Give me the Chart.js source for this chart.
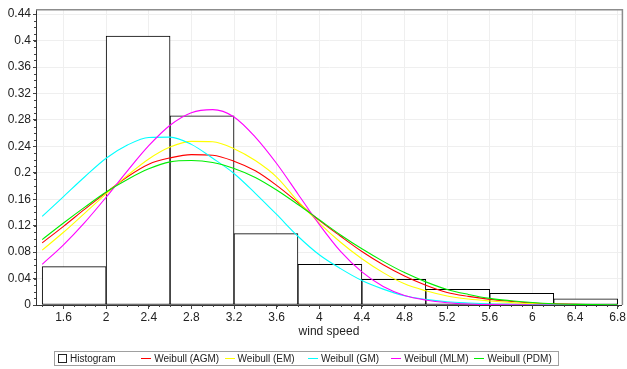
<!DOCTYPE html>
<html>
<head>
<meta charset="utf-8">
<script src="https://cdn.jsdelivr.net/npm/chart.js@4"></script>
<style>
    body { margin: 0; background: #fff; }
    #wrap { position: relative; width: 627px; height: 369px; }
    #legend {
        position: absolute;
        left: 54px;
        top: 351px;
        width: 505px;
        height: 15px;
        border: 1px solid #a0a0a0;
        font: 10px "Liberation Sans", Arial, sans-serif;
        color: #222;
        display: flex;
        align-items: center;
        padding-left: 3px;
        box-sizing: border-box;
    }
    .item { width: 83.3px; display: flex; align-items: center; white-space: nowrap; }
    .box { width: 9px; height: 9px; border: 1px solid #222; margin-right: 3px; box-sizing: border-box; }
    .line { width: 10px; height: 1.5px; margin-right: 3px; }
</style>
</head>
<body>
<div id="wrap">
    <canvas id="chart" width="627" height="369"></canvas>
    <div id="legend"></div>
</div>
<script>
// histogram (bin edges + heights)
const binEdges = [1.4, 2.0, 2.6, 3.2, 3.8, 4.4, 5.0, 5.6, 6.2, 6.8];
const binHeights = [0.058, 0.407, 0.286, 0.108, 0.0615, 0.039, 0.0237, 0.0176, 0.0095];

// fitted curves, read at these wind speeds
const windSpeed = [1.4, 1.6, 1.8, 2.0, 2.2, 2.4, 2.6, 2.8, 3.0, 3.2, 3.4, 3.6, 3.8, 4.0,
    4.2, 4.4, 4.6, 4.8, 5.0, 5.2, 5.4, 5.6, 5.8, 6.0, 6.2, 6.4, 6.6, 6.8];
const weibullAGM = [0.094, 0.119, 0.145, 0.170, 0.194, 0.213, 0.2225, 0.2275, 0.2265, 0.2175, 0.203, 0.181, 0.155, 0.128,
    0.104, 0.081, 0.061, 0.044, 0.030, 0.019, 0.013, 0.0085, 0.0055, 0.003, 0.0017, 0.0009, 0.0004, 0.0002];
const weibullEM = [0.083, 0.110, 0.139, 0.168, 0.196, 0.221, 0.239, 0.2475, 0.247, 0.2365, 0.2185, 0.1935, 0.157, 0.124,
    0.095, 0.070, 0.049, 0.032, 0.0215, 0.0136, 0.009, 0.006, 0.0037, 0.002, 0.001, 0.0005, 0.0002, 0.0001];
const weibullGM = [0.134, 0.164, 0.194, 0.222, 0.242, 0.2535, 0.254, 0.243, 0.222, 0.199, 0.169, 0.137, 0.104, 0.076,
    0.055, 0.037, 0.024, 0.014, 0.0085, 0.005, 0.003, 0.0015, 0.0008, 0.0004, 0.0002, 0.0001, 0, 0];
const weibullMLM = [0.0615, 0.091, 0.125, 0.163, 0.203, 0.241, 0.272, 0.291, 0.2955, 0.2845, 0.254, 0.214, 0.168, 0.122,
    0.081, 0.050, 0.028, 0.0145, 0.0075, 0.0035, 0.0015, 0.0006, 0.0002, 0.0001, 0, 0, 0, 0];
const weibullPDM = [0.099, 0.124, 0.148, 0.171, 0.190, 0.206, 0.2165, 0.2185, 0.2155, 0.2065, 0.193, 0.174, 0.152, 0.129,
    0.106, 0.085, 0.066, 0.049, 0.035, 0.0235, 0.016, 0.010, 0.0065, 0.0038, 0.002, 0.001, 0.0005, 0.0002];

const xTicks = [1.6, 2, 2.4, 2.8, 3.2, 3.6, 4, 4.4, 4.8, 5.2, 5.6, 6, 6.4, 6.8];
const yTicks = [0, 0.04, 0.08, 0.12, 0.16, 0.2, 0.24, 0.28, 0.32, 0.36, 0.4, 0.44];

const seriesNames = ['Weibull (AGM)', 'Weibull (EM)', 'Weibull (GM)', 'Weibull (MLM)', 'Weibull (PDM)'];
const seriesValues = [weibullAGM, weibullEM, weibullGM, weibullMLM, weibullPDM];
const seriesColors = ['#ff0000', '#ffff00', '#00ffff', '#ff00ff', '#00ee00'];

const font = { family: '"Liberation Sans", Arial, sans-serif', size: 12 };

const histogram = {
    type: 'bar',
    label: 'Histogram',
    data: binHeights.map((h, i) => ({ x: (binEdges[i] + binEdges[i + 1]) / 2, y: h })),
    backgroundColor: '#fff',
    borderColor: '#000',
    borderWidth: 1,
    borderSkipped: false,
    barThickness: 'flex',
    barPercentage: 1,
    categoryPercentage: 1,
    order: 10
};

// later series drawn on top
const curves = seriesNames.map((name, k) => ({
    type: 'line',
    label: name,
    data: windSpeed.map((x, i) => ({ x: x, y: seriesValues[k][i] })),
    borderColor: seriesColors[k],
    borderWidth: 1.1,
    pointRadius: 0,
    fill: false,
    cubicInterpolationMode: 'monotone',
    order: seriesNames.length - k
}));

// minor tick marks + frame round the plot area
const axisExtras = {
    id: 'axisExtras',
    afterDraw(chart) {
        const { ctx, chartArea: a, scales: { x, y } } = chart;
        ctx.save();
        ctx.strokeStyle = '#8c8c8c';
        ctx.lineWidth = 1.5;
        ctx.beginPath();
        ctx.moveTo(a.left, a.top + 0.5);
        ctx.lineTo(a.right + 0.5, a.top + 0.5);
        ctx.lineTo(a.right + 0.5, a.bottom);
        ctx.stroke();

        ctx.strokeStyle = '#444';
        ctx.lineWidth = 1;
        ctx.beginPath();
        for (let v = 14; v <= 68; v++) {
            const px = Math.round(x.getPixelForValue(v / 10)) + 0.5;
            ctx.moveTo(px, a.bottom);
            ctx.lineTo(px, a.bottom + 2);
        }
        for (let v = 0; v <= 44; v++) {
            const py = Math.round(y.getPixelForValue(v / 100)) + 0.5;
            ctx.moveTo(a.left - 2, py);
            ctx.lineTo(a.left, py);
        }
        ctx.stroke();
        ctx.restore();
    }
};

new Chart(document.getElementById('chart'), {
    type: 'bar',
    data: { datasets: [histogram, ...curves] },
    options: {
        responsive: false,
        animation: false,
        layout: { autoPadding: false, padding: { top: 8, right: 2, left: 0, bottom: 0 } },
        plugins: { legend: { display: false }, tooltip: { enabled: false } },
        scales: {
            x: {
                type: 'linear',
                min: 1.342,
                max: 6.84,
                offset: false,
                afterFit: (scale) => { scale.height = 64; },
                afterBuildTicks: (scale) => { scale.ticks = xTicks.map(v => ({ value: v })); },
                grid: { offset: false, color: '#efefef', tickColor: '#444', tickLength: 4 },
                border: { color: '#333', width: 1 },
                ticks: { font: font, color: '#222', padding: 1, maxRotation: 0, autoSkip: false,
                    callback: (v) => String(v) },
                title: { display: true, text: 'wind speed', font: font, color: '#222',
                    padding: { top: 0, bottom: 30 } }
            },
            y: {
                min: 0,
                max: 0.4475,
                afterFit: (scale) => { scale.width = 36; },
                afterBuildTicks: (scale) => { scale.ticks = yTicks.map(v => ({ value: v })); },
                grid: { color: '#efefef', tickColor: '#444', tickLength: 3 },
                border: { color: '#333', width: 1 },
                ticks: { font: font, color: '#222', padding: 2, callback: (v) => String(v) }
            }
        }
    },
    plugins: [axisExtras]
});

// legend, below the plot
const legend = document.getElementById('legend');
legend.innerHTML = `<div class="item"><span class="box"></span>${histogram.label}</div>` +
    seriesNames.map((name, k) =>
        `<div class="item"><span class="line" style="background:${seriesColors[k]}"></span>${name}</div>`
    ).join('');
</script>
</body>
</html>
